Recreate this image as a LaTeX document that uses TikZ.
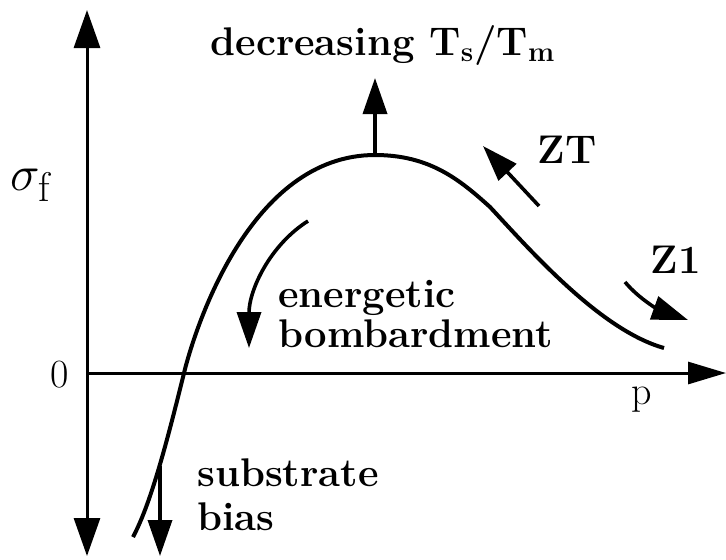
\documentclass[tikz,border=0pt]{standalone}
\usetikzlibrary{arrows.meta}

\begin{document}
\begin{tikzpicture}[
    x=0.5pt, y=-0.5pt,
    axis/.style={line width=1.5pt},
    curve/.style={line width=2pt},
    tip/.style={-{Triangle[length=18pt,width=12pt]},line width=1.8pt},
    lbl/.style={font=\fontsize{20}{20}\selectfont\bfseries,align=left,inner sep=0pt},
    plain/.style={font=\fontsize{20}{20}\selectfont,inner sep=0pt}
  ]
  \useasboundingbox (0,0) rectangle (726,559);

  % axes
  \coordinate (ytop) at (87,10);
  \coordinate (ybot) at (87,556);
  \coordinate (xorig) at (87,373);
  \coordinate (xend) at (726,373);
  \draw[axis,{Triangle[length=19pt,width=13pt]}-{Triangle[length=19pt,width=13pt]}] (ybot) -- (ytop);
  \draw[axis,-{Triangle[length=19pt,width=11pt]}] (xorig) -- (xend);
  \node[font=\fontsize{31}{31}\selectfont,inner sep=0pt,anchor=base west] (sig) at (10,190) {$\sigma_{\mathrm{f}}$};
  \node[plain] (zero) at (60,375) {0};
  \node[plain] (pp) at (642,400) {p};

  % stress curve
  \draw[curve] (133,537) .. controls (150,505) and (165,450) .. (184,373)
    .. controls (195,328) and (250,155) .. (375,155)
    .. controls (430,155) and (460,180) .. (490,207)
    .. controls (530,250) and (600,330) .. (664,348);
  \coordinate (peak) at (375,155);

  % trends
  \coordinate (up) at (375,78);
  \draw[tip] (peak) -- (up);
  \node[lbl,anchor=base] (dec) at (383,55) {decreasing T\textsubscript{s}/T\textsubscript{m}};

  \coordinate (zta) at (539,206);
  \coordinate (ztb) at (483,146);
  \draw[tip] (zta) -- (ztb);
  \node[lbl,anchor=base] (zt) at (567,163) {ZT};

  \coordinate (z1a) at (625,282);
  \coordinate (z1b) at (688,320);
  \draw[tip] (z1a) .. controls (640,300) and (660,310) .. (z1b);
  \node[lbl,anchor=base] (z1) at (676,273) {Z1};

  \coordinate (eba) at (308,221);
  \coordinate (ebb) at (249,348);
  \draw[tip] (eba) .. controls (270,245) and (249,290) .. (ebb);
  \node[lbl,anchor=base west] (eb) at (278,347) {energetic\\bombardment};

  \coordinate (sba) at (160,466);
  \coordinate (sbb) at (160,556);
  \draw[tip] (sba) -- (sbb);
  \node[lbl,anchor=base west] (sb) at (197,530) {substrate\\[2pt]bias};
\end{tikzpicture}
\end{document}
